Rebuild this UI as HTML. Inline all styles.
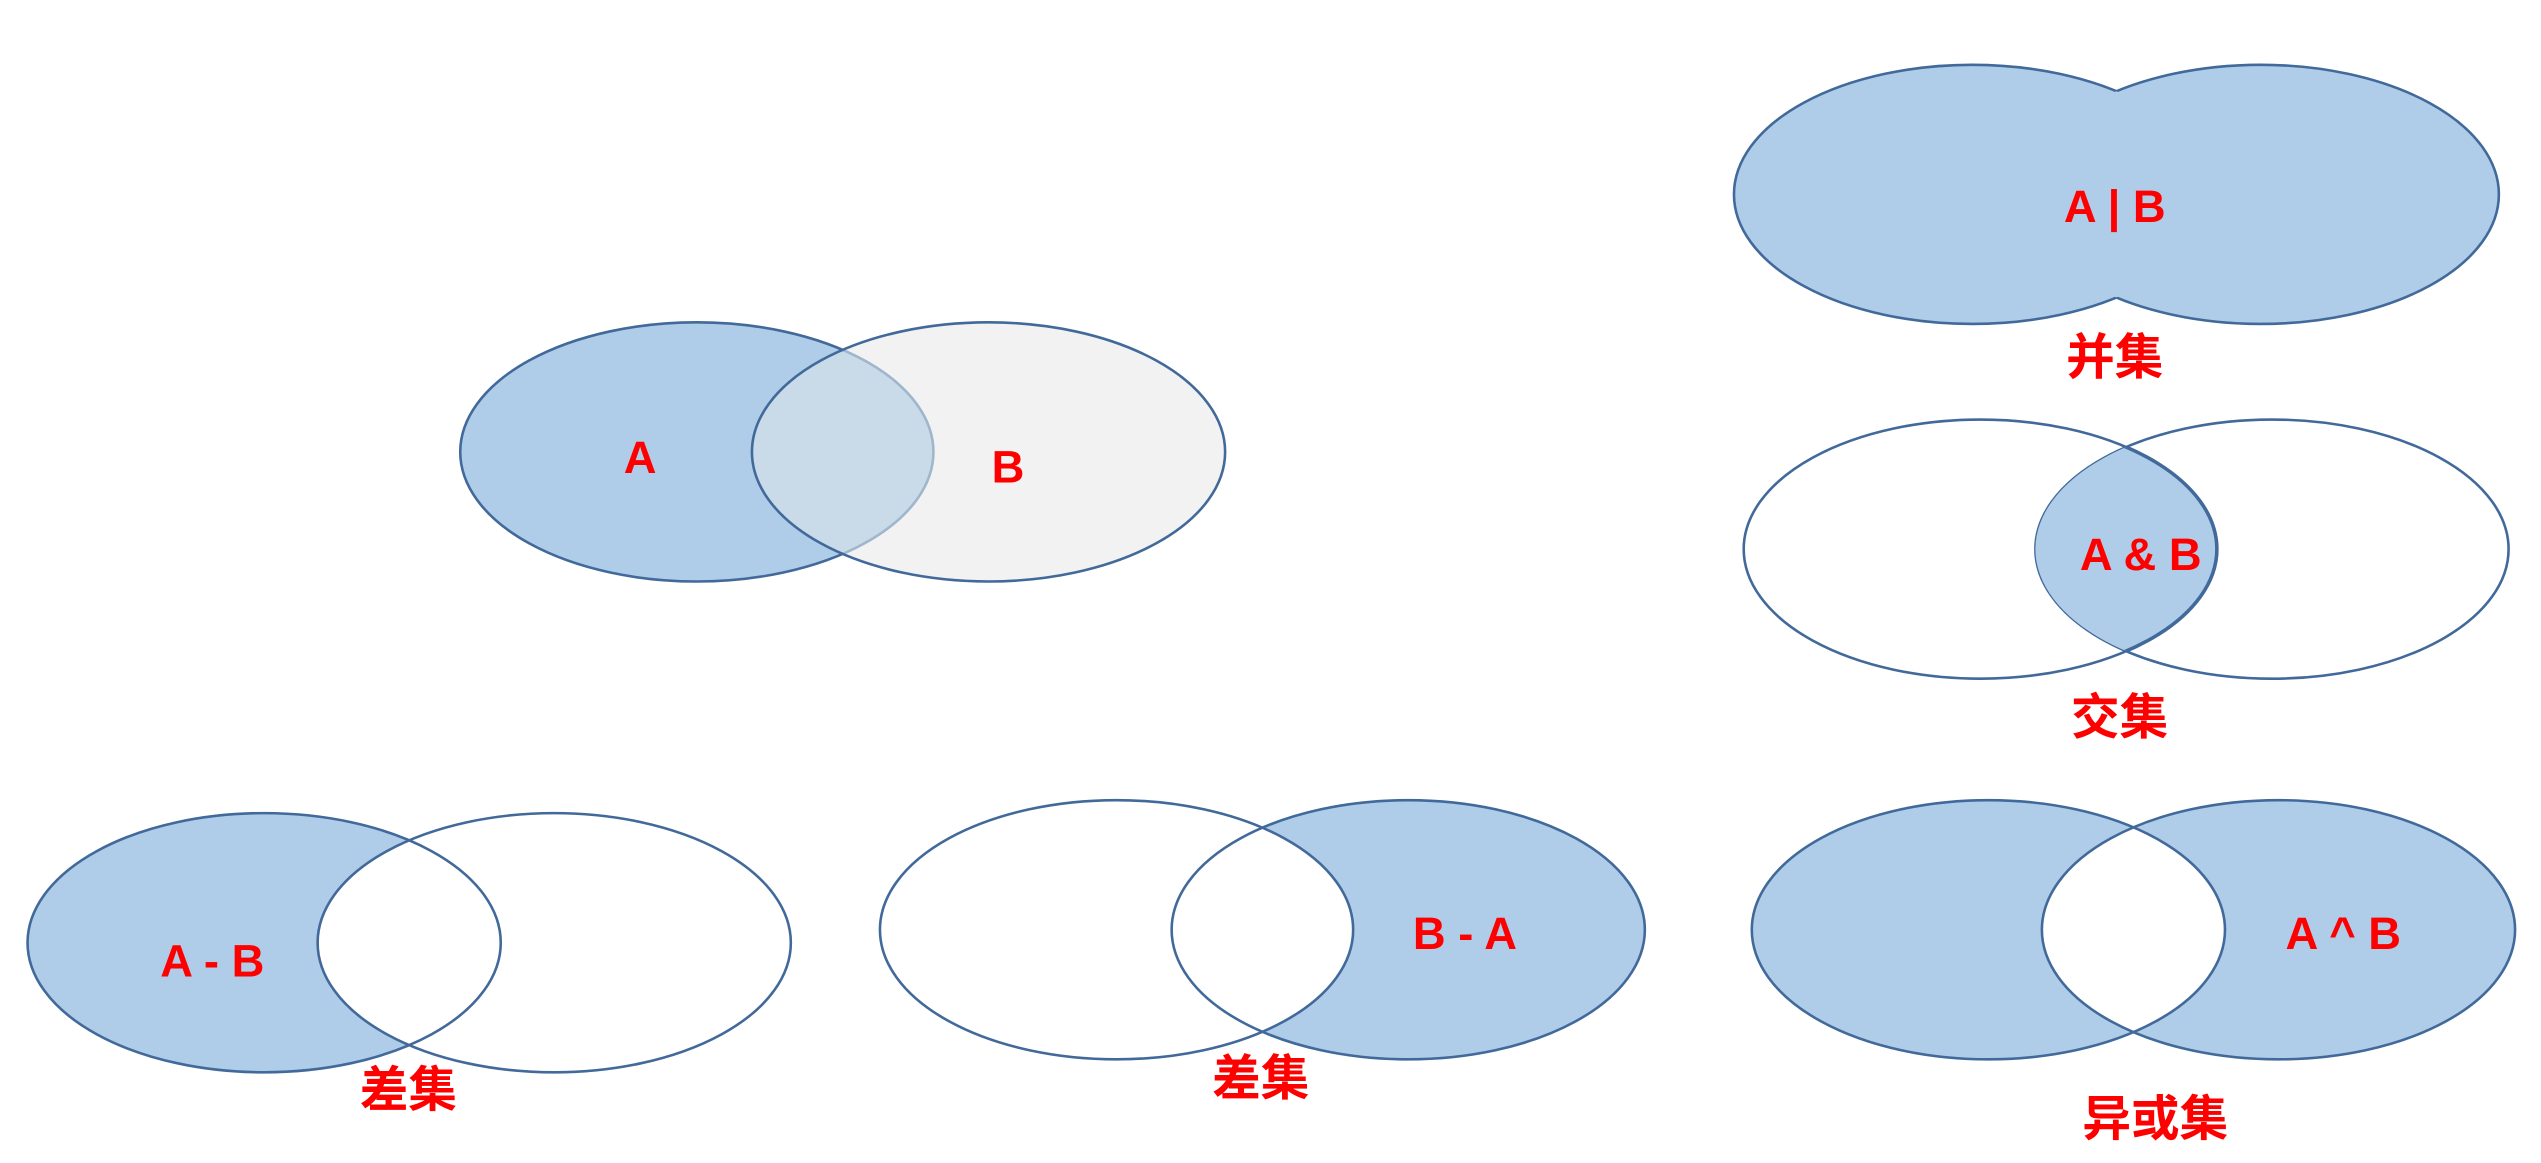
<!DOCTYPE html>
<html><head><meta charset="utf-8"><style>
html,body{margin:0;padding:0;background:#fff;}
svg{display:block;}
text{font-family:"Liberation Sans","Noto Sans CJK SC",sans-serif;fill:#ff0000;text-anchor:middle;}
</style></head><body>
<svg width="2541" height="1163" viewBox="0 0 1568 718" preserveAspectRatio="none">
<defs>
<clipPath id="cA"><ellipse cx="430" cy="279" rx="146" ry="80"/></clipPath>
<clipPath id="cB"><ellipse cx="610" cy="279" rx="146" ry="80"/></clipPath>
<mask id="mNotB"><rect width="1568" height="718" fill="#fff"/><ellipse cx="610" cy="279" rx="146" ry="80" fill="#000"/></mask>
<mask id="mU1"><rect width="1568" height="718" fill="#fff"/><ellipse cx="1395" cy="120" rx="147" ry="80" fill="#000"/></mask>
<mask id="mU2"><rect width="1568" height="718" fill="#fff"/><ellipse cx="1217" cy="120" rx="147" ry="80" fill="#000"/></mask>
<clipPath id="cI2"><ellipse cx="1402" cy="339" rx="146" ry="80"/></clipPath>
<mask id="mD1"><rect width="1568" height="718" fill="#fff"/><ellipse cx="342" cy="582" rx="146" ry="80" fill="#000"/></mask>
<mask id="mD2"><rect width="1568" height="718" fill="#fff"/><ellipse cx="689" cy="574" rx="146" ry="80" fill="#000"/></mask>
<clipPath id="cX1"><ellipse cx="1227" cy="574" rx="146" ry="80"/></clipPath>
</defs>
<g stroke="#41699a" stroke-width="1.6">
<g>
<ellipse cx="430" cy="279" rx="146" ry="80" fill="#afcde9" stroke="none"/>
<ellipse cx="610" cy="279" rx="146" ry="80" fill="#f2f2f2" stroke="none"/>
<ellipse cx="610" cy="279" rx="146" ry="80" fill="#c9dae8" stroke="none" clip-path="url(#cA)"/>
<ellipse cx="430" cy="279" rx="146" ry="80" fill="none" mask="url(#mNotB)"/>
<ellipse cx="430" cy="279" rx="146" ry="80" fill="none" stroke="#9fb6cc" clip-path="url(#cB)"/>
<ellipse cx="610" cy="279" rx="146" ry="80" fill="none"/>
</g>
<g>
<ellipse cx="1217" cy="120" rx="147" ry="80" fill="#afcde9" stroke="none"/>
<ellipse cx="1395" cy="120" rx="147" ry="80" fill="#afcde9" stroke="none"/>
<ellipse cx="1217" cy="120" rx="147" ry="80" fill="none" mask="url(#mU1)"/>
<ellipse cx="1395" cy="120" rx="147" ry="80" fill="none" mask="url(#mU2)"/>
</g>
<g>
<ellipse cx="1222" cy="339" rx="146" ry="80" fill="#fff"/>
<ellipse cx="1402" cy="339" rx="146" ry="80" fill="none"/>
<ellipse cx="1222" cy="339" rx="146" ry="80" fill="#afcde9" stroke-width="2.2" clip-path="url(#cI2)"/>
</g>
<g>
<ellipse cx="163" cy="582" rx="146" ry="80" fill="#afcde9" stroke="none" mask="url(#mD1)"/>
<ellipse cx="163" cy="582" rx="146" ry="80" fill="none"/>
<ellipse cx="342" cy="582" rx="146" ry="80" fill="none"/>
</g>
<g>
<ellipse cx="869" cy="574" rx="146" ry="80" fill="#afcde9" stroke="none" mask="url(#mD2)"/>
<ellipse cx="689" cy="574" rx="146" ry="80" fill="none"/>
<ellipse cx="869" cy="574" rx="146" ry="80" fill="none"/>
</g>
<g>
<ellipse cx="1227" cy="574" rx="146" ry="80" fill="#afcde9" stroke="none"/>
<ellipse cx="1406" cy="574" rx="146" ry="80" fill="#afcde9" stroke="none"/>
<ellipse cx="1406" cy="574" rx="146" ry="80" fill="#fff" stroke="none" clip-path="url(#cX1)"/>
<ellipse cx="1227" cy="574" rx="146" ry="80" fill="none"/>
<ellipse cx="1406" cy="574" rx="146" ry="80" fill="none"/>
</g>
</g>
<g font-weight="bold">
<text x="395" y="292" font-size="28">A</text>
<text x="622" y="298" font-size="28">B</text>
<text x="1305" y="137" font-size="28">A | B</text>
<text x="1305" y="231" font-size="30">并集</text>
<text x="1321" y="352" font-size="28">A &amp; B</text>
<text x="1308" y="453" font-size="30">交集</text>
<text x="131" y="603" font-size="28">A - B</text>
<text x="252" y="683" font-size="30">差集</text>
<text x="904" y="586" font-size="28">B - A</text>
<text x="778" y="676" font-size="30">差集</text>
<text x="1446" y="586" font-size="28">A ^ B</text>
<text x="1330" y="701" font-size="30">异或集</text>
</g>
</svg>
</body></html>
